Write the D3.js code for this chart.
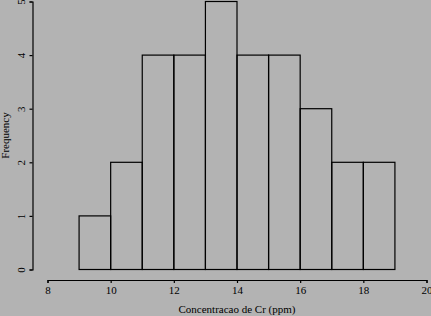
<!DOCTYPE html>
<html>
<head>
<meta charset="utf-8">
<script src="https://cdn.jsdelivr.net/npm/d3@7"></script>
<style>
  body { margin: 0; background: #b3b3b3; }
  svg { display: block; }
  text { font-family: "Liberation Serif", "DejaVu Serif", serif; fill: #000; }
</style>
</head>
<body>
<svg></svg>
<script>
let width = 431,
    height = 316;

// histogram bins (Cr concentration, ppm)
let binStarts = [8, 9, 10, 11, 12, 13, 14, 15, 16, 17, 18, 19]
let counts    = [0, 1, 2, 4, 4, 5, 4, 4, 3, 2, 2, 0]
let xTicks = [8, 10, 12, 14, 16, 18, 20]
let yTicks = [0, 1, 2, 3, 4, 5]

let svg = d3.select('svg')
    .attr('width', width)
    .attr('height', height)

let x = d3.scaleLinear().domain([8, 20]).range([47.5, 426.5])
let y = d3.scaleLinear().domain([0, 5]).range([269.5, 1.5])

let bins = binStarts.map((s, i) => ({ x0: s, x1: s + 1, n: counts[i] }))

// bars
svg.append('g').selectAll('rect')
    .data(bins)
    .enter().append('rect')
    .attr('x', d => x(d.x0))
    .attr('y', d => y(d.n))
    .attr('width', d => x(d.x1) - x(d.x0))
    .attr('height', d => y(0) - y(d.n))
    .attr('fill', 'none')
    .attr('stroke', '#000')
    .attr('stroke-width', 1.2)

// x axis
let xAxis = svg.append('g')
    .attr('transform', 'translate(0,280)')
    .call(d3.axisBottom(x).tickValues(xTicks).tickFormat(d3.format('d')).tickSize(3).tickPadding(3))
xAxis.select('.domain').attr('stroke-width', 1.2)
xAxis.selectAll('line').attr('stroke-width', 1.2)
xAxis.selectAll('text').style('font-size', '11px')

// y axis
let yAxis = svg.append('g')
    .attr('transform', 'translate(32.5,0)')
    .call(d3.axisLeft(y).tickValues(yTicks).tickFormat(d3.format('d')).tickSize(3).tickPadding(3))
yAxis.select('.domain').attr('stroke-width', 1.2)
yAxis.selectAll('line').attr('stroke-width', 1.2)
yAxis.selectAll('text')
    .style('font-size', '11px')
    .attr('text-anchor', 'middle')
    .attr('x', 0)
    .attr('dy', 0)
    .attr('transform', 'translate(-8,0) rotate(-90)')

// titles
svg.append('text')
    .attr('x', x(14))
    .attr('y', 313)
    .attr('text-anchor', 'middle')
    .style('font-size', '11px')
    .text('Concentracao de Cr (ppm)')

svg.append('text')
    .attr('transform', 'translate(9,' + y(2.5) + ') rotate(-90)')
    .attr('text-anchor', 'middle')
    .style('font-size', '11px')
    .text('Frequency')
</script>
</body>
</html>
